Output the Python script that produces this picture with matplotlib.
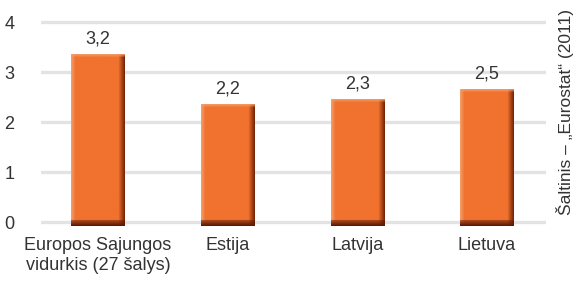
import numpy as np
import matplotlib
matplotlib.use("Agg")
import matplotlib.pyplot as plt

# ==========================================
# DATA
# ==========================================
categories = ["Europos Sajungos\nvidurkis (27 šalys)", "Estija", "Latvija", "Lietuva"]
values = [3.2, 2.2, 2.3, 2.5]
value_labels = ["3,2", "2,2", "2,3", "2,5"]
y_ticks = [0, 1, 2, 3, 4]
source = "Šaltinis – „Eurostat“ (2011)"

# ==========================================
# STYLE
# ==========================================
plt.rcParams['font.family'] = ['Liberation Sans', 'DejaVu Sans']
TEXT = "#333333"
GRID = "#e3e3e3"
BAR_W = 0.41
CAP = 0.15      # bevelled top of the 3D bars sticks out above the value
BASE = -0.08    # dark base sits a little under the zero line
PX_PER_UNIT = 50
FS = 13


def bar_image(height_units, width_px=53):
    """Shaded bar: light left/top edge, dark right edge, dark brown base."""
    n_rows = max(int(height_units * PX_PER_UNIT), 10)
    base = np.array([240, 114, 46]) / 255.0
    light = np.array([246, 160, 110]) / 255.0
    dark = np.array([120, 38, 8]) / 255.0
    img = np.tile(base, (n_rows, width_px, 1))
    # left highlight
    for i in range(4):
        t = 1 - i / 4
        img[:, i] = base + (light - base) * t * 0.9
    # right shadow
    for i in range(6):
        t = (i + 1) / 6
        img[:, width_px - 6 + i] = base + (dark - base) * t
    # top highlight
    for j in range(3):
        t = 1 - j / 3
        img[j] = img[j] + (light - img[j]) * t * 0.8
    # dark base band
    for j in range(6):
        t = 0.5 + 0.5 * (j / 5)
        img[n_rows - 6 + j] = img[n_rows - 6 + j] + (np.array([95, 25, 5]) / 255.0 - img[n_rows - 6 + j]) * t
    return img


fig = plt.figure(figsize=(5.76, 2.87), dpi=100)
ax = fig.add_axes([0.071, 0.209, 0.877, 0.723])

x = np.arange(len(categories))
for xi in y_ticks:
    ax.axhline(xi, color=GRID, lw=2.4, zorder=0)

for xi, v, lab in zip(x, values, value_labels):
    top = v + CAP
    ax.imshow(bar_image(top - BASE), extent=(xi - BAR_W / 2, xi + BAR_W / 2, BASE, top),
              aspect="auto", zorder=2, interpolation="bilinear")
    ax.annotate(lab, (xi, top), xytext=(0, 5), textcoords="offset points",
                ha="center", va="bottom", fontsize=FS, color=TEXT)

ax.set_xlim(-0.44, 3.455)
ax.set_ylim(-0.1, 4.05)
ax.set_yticks(y_ticks)
ax.set_yticklabels([str(t) for t in y_ticks], fontsize=FS, color=TEXT)
ax.set_xticks(x)
ax.set_xticklabels(categories, fontsize=FS, color=TEXT, linespacing=1.25)
ax.tick_params(length=0, axis="y", pad=19)
ax.tick_params(length=0, axis="x", pad=7)
for s in ax.spines.values():
    s.set_visible(False)
ax.set_facecolor("none")

fig.text(0.981, (287 - 215) / 287, source, rotation=90, ha="center", va="bottom",
         fontsize=12.5, color=TEXT)

fig.savefig("out.png", dpi=100)
